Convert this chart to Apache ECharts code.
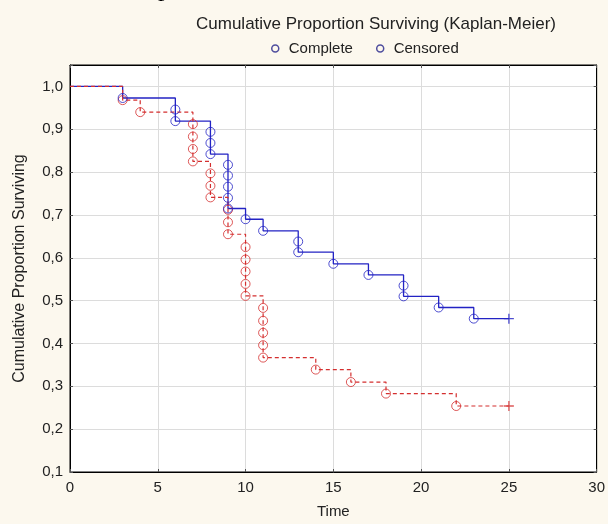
<!DOCTYPE html>
<html>
<head>
<meta charset="utf-8">
<script src="https://cdn.jsdelivr.net/npm/echarts@6/dist/echarts.min.js"></script>
<style>
  html, body { margin: 0; padding: 0; background: #fcf8ee; }
  #main { width: 608px; height: 524px; }
</style>
</head>
<body>
<div id="main"></div>
<script>
// group 1 (blue, solid) - event times and survival after each event
const blueTimes = [3, 6, 6, 8, 8, 8, 9, 9, 9, 9, 9, 10, 11, 13, 13, 15, 17, 19, 19, 21, 23];
const blueSurv = [0.973, 0.946, 0.919, 0.894, 0.868, 0.842, 0.817, 0.792, 0.766, 0.740, 0.715,
  0.690, 0.663, 0.638, 0.613, 0.586, 0.560, 0.535, 0.510, 0.484, 0.458];
const blueCensorTime = [25];
const blueCensorSurv = [0.458];

// group 2 (red, dashed)
const redTimes = [3, 4, 7, 7, 7, 7, 8, 8, 8, 9, 9, 9, 10, 10, 10, 10, 10, 11, 11, 11, 11, 11, 14, 16, 18, 22];
const redSurv = [0.968, 0.940, 0.912, 0.883, 0.854, 0.825, 0.797, 0.768, 0.741, 0.712, 0.683, 0.655,
  0.625, 0.596, 0.568, 0.539, 0.511, 0.483, 0.453, 0.425, 0.396, 0.367, 0.339, 0.310, 0.283, 0.254];
const redCensorTime = [25];
const redCensorSurv = [0.254];

const yTicks = [0.1, 0.2, 0.3, 0.4, 0.5, 0.6, 0.7, 0.8, 0.9, 1.0];

const BLUE = "#2323c4";
const RED = "#d42f2f";
const FONT = "Liberation Sans";

function pairs(xs, ys) {
  return xs.map((x, i) => [x, ys[i]]);
}
// step curve: start at (0,1), every event, then on to the censored end point
function curve(times, surv, cTimes, cSurv) {
  return [[0, 1.0]].concat(pairs(times, surv), pairs(cTimes, cSurv));
}

const chart = echarts.init(document.getElementById("main"));

const plus = "path://M0,5L10,5M5,0L5,10";
const hollow = (c) => ({ color: "rgba(0,0,0,0)", borderColor: c, borderWidth: 1 });

chart.setOption({
  backgroundColor: "#fcf8ee",
  animation: false,
  textStyle: { fontFamily: FONT },
  title: {
    text: "Cumulative Proportion Surviving (Kaplan-Meier)",
    left: 371,
    top: 11,
    textAlign: "center",
    textStyle: { fontSize: 17, fontWeight: "normal", color: "#222", fontFamily: FONT },
  },
  legend: {
    left: 266,
    top: 36,
    selectedMode: false,
    itemWidth: 7,
    itemHeight: 7,
    itemGap: 23,
    textStyle: { fontSize: 15, color: "#222", fontFamily: FONT, padding: [0, 0, 0, 5] },
    data: [
      { name: "Complete", icon: "circle", itemStyle: { color: "#fcf8ee", borderColor: "#23238a", borderWidth: 1.5 } },
      { name: "Censored", icon: "circle", itemStyle: { color: "#fcf8ee", borderColor: "#23238a", borderWidth: 1.5 } },
    ],
  },
  graphic: [
    {
      type: "text",
      left: 158,
      top: -24,
      silent: true,
      style: { text: "p", font: "26px Liberation Serif", fill: "#000" },
    },
  ],
  grid: {
    left: 70,
    right: 7,
    top: 65,
    bottom: 49,
    show: true,
    backgroundColor: "#fff",
    borderColor: "#000",
    borderWidth: 1,
  },
  xAxis: [
    {
      type: "value",
      min: 0,
      max: 30,
      interval: 5,
      name: "Time",
      nameLocation: "middle",
      nameGap: 32,
      nameTextStyle: { fontSize: 15, color: "#222", fontFamily: FONT },
      axisLine: { show: true, onZero: false, lineStyle: { color: "#000" } },
      axisTick: { show: true, inside: true, length: 3, lineStyle: { color: "#555" } },
      axisLabel: { fontSize: 15, color: "#222", margin: 8, fontFamily: FONT },
      splitLine: { show: true, lineStyle: { color: "#dcdcdc" } },
    },
    {
      type: "value",
      position: "top",
      min: 0,
      max: 30,
      interval: 5,
      axisLine: { show: true, onZero: false, lineStyle: { color: "#000" } },
      axisTick: { show: true, inside: true, length: 3, lineStyle: { color: "#555" } },
      axisLabel: { show: false },
      splitLine: { show: false },
    },
  ],
  yAxis: [
    {
      type: "value",
      min: 0.1,
      max: 1.05,
      interval: 0.1,
      name: "Cumulative Proportion Surviving",
      nameLocation: "middle",
      nameGap: 42,
      nameTextStyle: { fontSize: 16, color: "#222", fontFamily: FONT },
      axisLine: { show: true, onZero: false, lineStyle: { color: "#000" } },
      axisTick: { show: true, inside: true, length: 3, lineStyle: { color: "#555" } },
      axisLabel: {
        fontSize: 15,
        color: "#222",
        margin: 7,
        fontFamily: FONT,
        formatter: (v) => {
          const hit = yTicks.find((t) => Math.abs(t - v) < 1e-6);
          return hit === undefined ? "" : hit.toFixed(1).replace(".", ",");
        },
      },
      splitLine: { show: true, lineStyle: { color: "#dcdcdc" } },
    },
    {
      type: "value",
      position: "right",
      min: 0.1,
      max: 1.05,
      interval: 0.1,
      axisLine: { show: true, onZero: false, lineStyle: { color: "#000" } },
      axisTick: { show: true, inside: true, length: 3, lineStyle: { color: "#555" } },
      axisLabel: { show: false },
      splitLine: { show: false },
    },
  ],
  series: [
    {
      name: "Group 1",
      type: "line",
      step: "end",
      symbol: "none",
      data: curve(blueTimes, blueSurv, blueCensorTime, blueCensorSurv),
      lineStyle: { color: BLUE, width: 1.3 },
      z: 2,
    },
    {
      name: "Group 2",
      type: "line",
      step: "end",
      symbol: "none",
      data: curve(redTimes, redSurv, redCensorTime, redCensorSurv),
      lineStyle: { color: RED, width: 1.2, type: [4, 3] },
      z: 3,
    },
    {
      name: "Complete",
      type: "scatter",
      symbol: "circle",
      symbolSize: 9,
      data: pairs(redTimes, redSurv),
      itemStyle: hollow(RED),
      z: 4,
    },
    {
      name: "Complete",
      type: "scatter",
      symbol: "circle",
      symbolSize: 9,
      data: pairs(blueTimes, blueSurv),
      itemStyle: hollow(BLUE),
      z: 5,
    },
    {
      name: "Censored",
      type: "scatter",
      symbol: plus,
      symbolSize: 10,
      data: pairs(blueCensorTime, blueCensorSurv),
      itemStyle: { color: "none", borderColor: BLUE, borderWidth: 1.3 },
      z: 5,
    },
    {
      name: "Censored",
      type: "scatter",
      symbol: plus,
      symbolSize: 10,
      data: pairs(redCensorTime, redCensorSurv),
      itemStyle: { color: "none", borderColor: RED, borderWidth: 1.3 },
      z: 5,
    },
  ],
});
</script>
</body>
</html>
